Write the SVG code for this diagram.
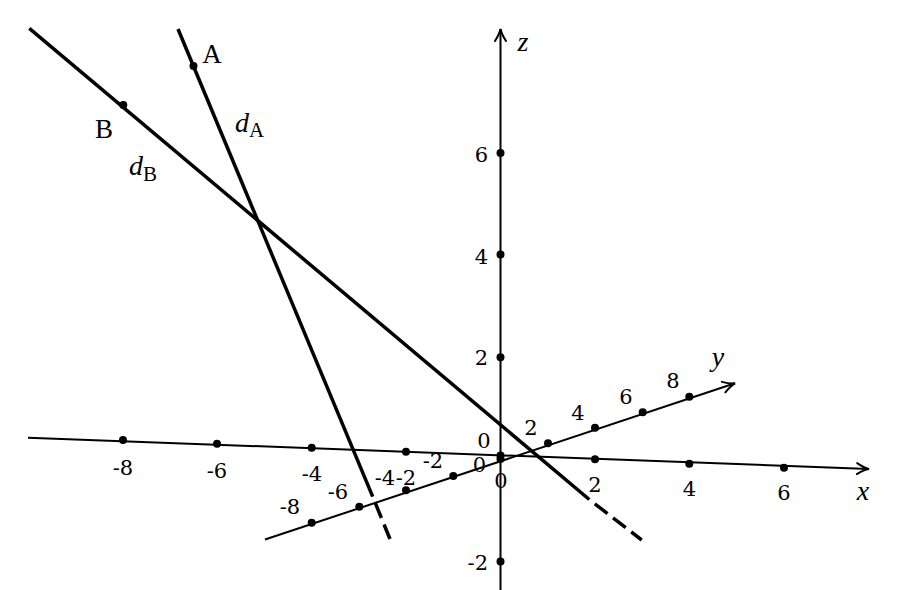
<svg xmlns="http://www.w3.org/2000/svg" width="899" height="590" viewBox="0 0 899 590">
<style>
.axis{stroke:#000;stroke-width:2;fill:none}
.ln{stroke:#000;stroke-width:3.5;fill:none}
.dash{stroke:#000;stroke-width:3.5;fill:none;stroke-dasharray:16 7;stroke-dashoffset:16}
.dot{fill:#000}
text{font-family:"DejaVu Serif","Liberation Serif",serif;font-size:21px;fill:#000}
.it{font-family:"Liberation Serif",serif;font-style:italic;font-size:28px}
.sub{font-family:"Liberation Serif",serif;font-style:normal;font-size:21px}
.lab{font-family:"Liberation Serif",serif;font-size:27px}
.c{text-anchor:middle}
.e{text-anchor:end}
</style>
<defs>
<marker id="arr" markerUnits="userSpaceOnUse" markerWidth="20" markerHeight="16" viewBox="-14 -8 16 16" refX="0" refY="0" orient="auto">
<path d="M -12 -5.5 Q -5 -1 0 0 Q -5 1 -12 5.5" stroke="#000" stroke-width="2" fill="none" stroke-linecap="round"/>
</marker>
</defs>
<g id="axes">
<line id="x-axis" class="axis" x1="28" y1="437.7" x2="869" y2="469" marker-end="url(#arr)"/>
<line id="y-axis" class="axis" x1="265" y1="539.5" x2="735" y2="383.3" marker-end="url(#arr)"/>
<line id="z-axis" class="axis" x1="500.5" y1="590" x2="500.5" y2="29" marker-end="url(#arr)"/>
</g>
<g id="connectors">
<line class="ln" x1="178" y1="29" x2="372.7" y2="496.7"/>
<line class="dash" x1="372.7" y1="496.7" x2="390" y2="539"/>
<line class="ln" x1="29.3" y1="28.3" x2="589.3" y2="499.5"/>
<line class="dash" x1="589.3" y1="499.5" x2="641.7" y2="540"/>
</g>
<g id="x-ticks">
<circle class="dot" cx="123" cy="440" r="4"/>
<circle class="dot" cx="217" cy="443.7" r="4"/>
<circle class="dot" cx="311.7" cy="447.7" r="4"/>
<circle class="dot" cx="406" cy="451.7" r="4"/>
<circle class="dot" cx="500.5" cy="455.5" r="4"/>
<circle class="dot" cx="595" cy="459.3" r="4"/>
<circle class="dot" cx="689.3" cy="463.7" r="4"/>
<circle class="dot" cx="784" cy="467.7" r="4"/>
<text class="c" x="123" y="474.5">-8</text>
<text class="c" x="217" y="477.5">-6</text>
<text class="c" x="312" y="481">-4</text>
<text class="c" x="406" y="485">-2</text>
<text class="c" x="501" y="488">0</text>
<text class="c" x="595" y="492">2</text>
<text class="c" x="689.5" y="496">4</text>
<text class="c" x="784" y="500">6</text>
<text class="it c" x="863" y="500">x</text>
</g>
<g id="y-ticks">
<circle class="dot" cx="311.7" cy="522.7" r="4"/>
<circle class="dot" cx="359.3" cy="506.7" r="4"/>
<circle class="dot" cx="406" cy="490.3" r="4"/>
<circle class="dot" cx="453.3" cy="476" r="4"/>
<circle class="dot" cx="500.5" cy="459" r="4"/>
<circle class="dot" cx="548" cy="443.3" r="4"/>
<circle class="dot" cx="595" cy="427.7" r="4"/>
<circle class="dot" cx="642.7" cy="412.3" r="4"/>
<circle class="dot" cx="689.3" cy="396.7" r="4"/>
<text class="c" x="290" y="514">-8</text>
<text class="c" x="338" y="499">-6</text>
<text class="c" x="385" y="485">-4</text>
<text class="c" x="433" y="468">-2</text>
<text class="c" x="484" y="448">0</text>
<text class="c" x="531" y="435">2</text>
<text class="c" x="578" y="420">4</text>
<text class="c" x="626" y="404">6</text>
<text class="c" x="673" y="388">8</text>
<text class="it c" x="718" y="366">y</text>
</g>
<g id="z-ticks">
<circle class="dot" cx="500.5" cy="153" r="4"/>
<circle class="dot" cx="500.5" cy="254.5" r="4"/>
<circle class="dot" cx="500.5" cy="357.3" r="4"/>
<circle class="dot" cx="500.5" cy="561.5" r="4"/>
<text class="e" x="488" y="162">6</text>
<text class="e" x="488" y="264">4</text>
<text class="e" x="488" y="365">2</text>
<text class="e" x="486" y="472">0</text>
<text class="e" x="488" y="570">-2</text>
<text class="it c" x="523" y="51">z</text>
</g>
<g id="point-A">
<circle class="dot" cx="193.5" cy="66" r="4"/>
<text class="c lab" x="212" y="63">A</text>
</g>
<g id="point-B">
<circle class="dot" cx="123.3" cy="105" r="4"/>
<text class="c lab" x="104" y="138">B</text>
</g>
<g id="label-dA">
<text x="235" y="132"><tspan class="it">d</tspan><tspan class="sub" dy="5">A</tspan></text>
</g>
<g id="label-dB">
<text x="129" y="175"><tspan class="it">d</tspan><tspan class="sub" dy="6">B</tspan></text>
</g>
</svg>
